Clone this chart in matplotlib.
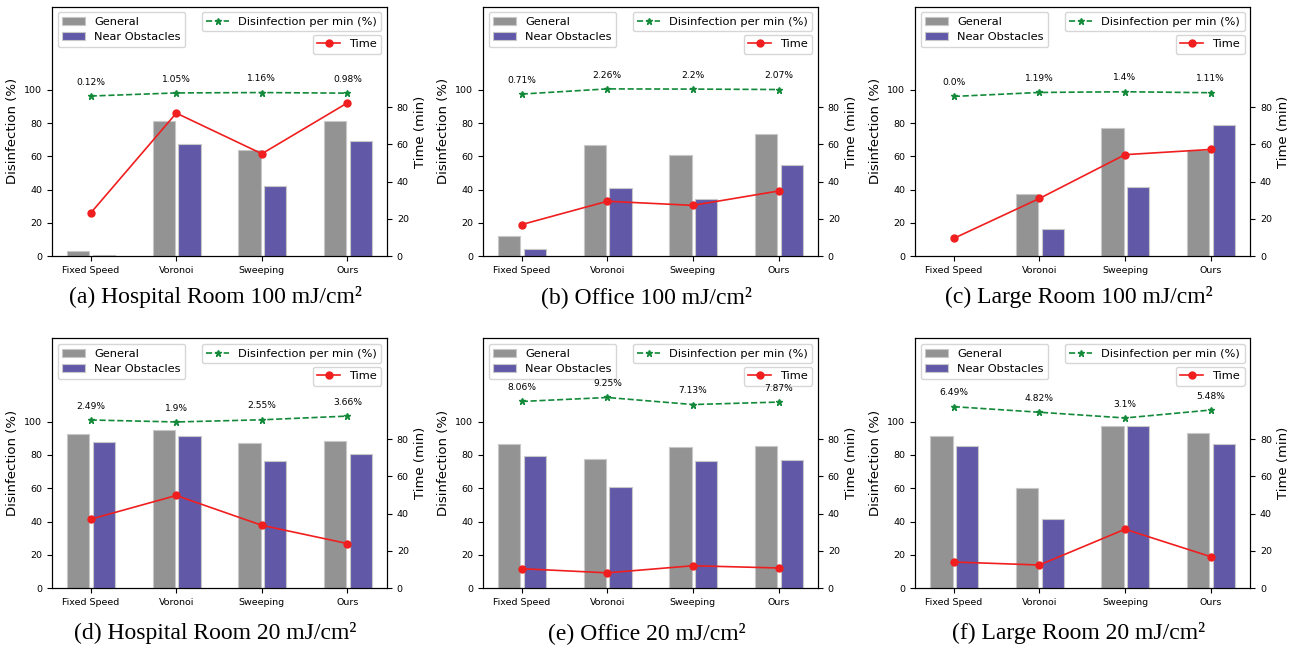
import numpy as np
import matplotlib
matplotlib.use('Agg')
import matplotlib.pyplot as plt

#categories and panel captions
methods = ['Fixed Speed', 'Voronoi', 'Sweeping', 'Ours']
captions = ['(a) Hospital Room 100 mJ/cm²', '(b) Office 100 mJ/cm²', '(c) Large Room 100 mJ/cm²',
            '(d) Hospital Room 20 mJ/cm²', '(e) Office 20 mJ/cm²', '(f) Large Room 20 mJ/cm²']

#disinfection (%) in general areas, one list per panel
general = [[3, 81, 64, 81.5],
           [12.3, 67.1, 60.7, 73.2],
           [0, 37.1, 77, 64],
           [92.7, 94.7, 87, 88.5],
           [86.5, 77.6, 84.8, 85.3],
           [91.3, 60.4, 97.6, 93.3]]

#disinfection (%) near obstacles
near_obs = [[1, 67.5, 42, 69.5],
            [4.6, 40.7, 34.1, 54.6],
            [0, 16.3, 41.5, 78.8],
            [87.7, 91.3, 76.6, 80.4],
            [79.6, 61, 76.4, 77.2],
            [85.3, 41.8, 97.2, 86.5]]

#time (min)
time_min = [[23.2, 76.8, 55, 82.3],
            [17, 29.5, 27.3, 35],
            [9.6, 31, 54.5, 57.3],
            [37, 49.7, 33.7, 23.9],
            [10.4, 8.2, 12, 10.8],
            [14, 12.4, 31.6, 16.9]]

#disinfection per min (%)
per_min = [[0.12, 1.05, 1.16, 0.98],
           [0.71, 2.26, 2.2, 2.07],
           [0.0, 1.19, 1.4, 1.11],
           [2.49, 1.9, 2.55, 3.66],
           [8.06, 9.25, 7.13, 7.87],
           [6.49, 4.82, 3.1, 5.48]]

gray = '#939393'
purple = '#6159a8'

fig = plt.figure(figsize=(12.89, 6.52), dpi=100)
lefts = [0.0403, 0.3747, 0.7099]
bottoms = [0.607, 0.098]
w, h = 0.26, 0.383

x = np.arange(len(methods))
for k in range(6):
    r, c = divmod(k, 3)
    ax = fig.add_axes([lefts[c], bottoms[r], w, h])
    ax.bar(x - 0.145, general[k], 0.26, color=gray, edgecolor='#c8c8c8', linewidth=0.8, label='General')
    ax.bar(x + 0.155, near_obs[k], 0.26, color=purple, edgecolor='#c8c8c8', linewidth=0.8, label='Near Obstacles')
    ax.set_ylim(0, 150)
    ax.set_yticks([0, 20, 40, 60, 80, 100])
    ax.set_xticks(x)
    ax.set_xticklabels(methods)
    ax.tick_params(labelsize=6.8)
    ax.set_ylabel('Disinfection (%)', fontsize=9.5)
    ax.legend(loc='upper left', fontsize=8.2)

    ax2 = ax.twinx()
    ax2.plot(x, time_min[k], 'o-', color='#f01e1e', markersize=5, linewidth=1.2, label='Time')
    ax2.set_ylim(0, 134)
    ax2.set_yticks([0, 20, 40, 60, 80])
    ax2.tick_params(labelsize=6.8)
    ax2.set_ylabel('Time (min)', fontsize=9.5)
    ax2.legend(loc='upper right', bbox_to_anchor=(1, 0.91), fontsize=8.2)

    #third hidden axis so that the per-minute rate sits above the bars
    ax3 = ax.twinx()
    ax3.set_ylim(-48, 27)
    ax3.axis('off')
    ax3.plot(x, per_min[k], '*--', color='#128a3a', markersize=5, linewidth=1.2, label='Disinfection per min (%)')
    for xi, v in zip(x, per_min[k]):
        ax3.annotate(str(v) + '%', (xi, v), xytext=(0, 10), textcoords='offset points',
                     ha='center', va='center', fontsize=6.6)
    ax3.legend(loc='upper right', fontsize=8.2)

    fig.text(lefts[c] + w / 2 - 0.003, [0.5445, 0.029][r], captions[k], ha='center', va='center',
             fontsize=17, family='Liberation Serif')

fig.savefig('out.png', dpi=100)
